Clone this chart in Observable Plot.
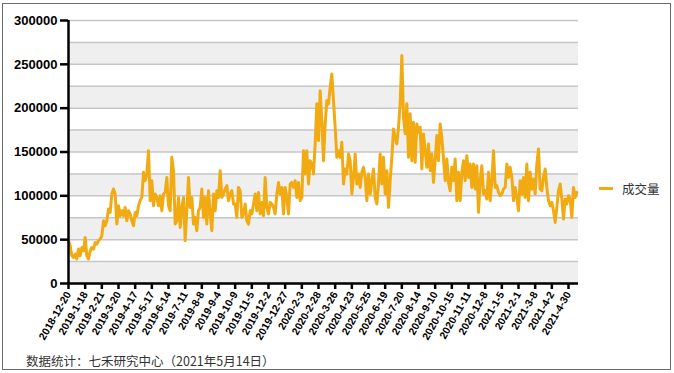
<!DOCTYPE html>
<html>
<head>
<meta charset="utf-8">
<script src="https://cdn.jsdelivr.net/npm/d3@7"></script>
<script src="https://cdn.jsdelivr.net/npm/@observablehq/plot@0.6"></script>
<style>
  body { margin: 0; background: #fff; }
  #wrap { position: relative; width: 674px; height: 373px; overflow: hidden; background: #fff; }
  #frame { position: absolute; left: 2px; top: 3px; width: 669px; height: 367px; box-sizing: border-box; border: 1.5px solid #6a6a6a; pointer-events: none; }
  #chart { position: absolute; left: 0; top: 0; }
  #legend { position: absolute; left: 599px; top: 179px; height: 18px; display: flex; align-items: center; font-family: "Noto Sans CJK SC", sans-serif; font-size: 12.5px; color: #333; }
  #legend .sw { display: inline-block; width: 14px; height: 3px; margin-right: 9px; }
  #caption { position: absolute; left: 26px; top: 351px; font-family: "Noto Sans CJK SC", sans-serif; font-size: 12.5px; color: #333; white-space: nowrap; }
</style>
</head>
<body>
<div id="wrap">
  <div id="chart"></div>
  <div id="legend"><span class="sw"></span><span id="legendText"></span></div>
  <div id="caption"></div>
  <div id="frame"></div>
</div>
<script>
// ---- data ----
const seriesName = "成交量";
const caption = "数据统计：七禾研究中心（2021年5月14日）";
const lineColor = "#f2aa12";

// x tick labels, one every 20 trading days
const tickLabels = [
  "2018-12-20","2019-1-18","2019-2-21","2019-3-20","2019-4-17","2019-5-17",
  "2019-6-14","2019-7-11","2019-8-8","2019-9-4","2019-10-9","2019-11-5",
  "2019-12-2","2019-12-27","2020-2-3","2020-2-28","2020-3-26","2020-4-23",
  "2020-5-25","2020-6-19","2020-7-20","2020-8-14","2020-9-10","2020-10-15",
  "2020-11-11","2020-12-8","2021-1-5","2021-2-1","2021-3-8","2021-4-2","2021-4-30"
];
const tickEvery = 20;   // trading days between labels
const sampleStep = 2;   // trading days between read values
const lastIndex = 612;  // end of category axis

// volume, one value every 2 trading days
const volume = [
  48800, 43000, 31600, 29700, 33600, 27900, 39300, 31600, 41100, 37300,
  52500, 31600, 27900, 37300, 41100, 39300, 46800, 45000, 48800, 50700,
  54500, 71600, 65900, 71600, 85000, 81100, 102100, 107800, 102100, 68000,
  88700, 77300, 83000, 77300, 86800, 71600, 83000, 79300, 71600, 65900,
  81100, 77300, 88700, 94500, 98200, 126800, 117300, 124900, 151500, 94500,
  117300, 88700, 102100, 98200, 88700, 100200, 83000, 102100, 103900, 121000,
  88700, 83000, 143900, 128700, 67800, 71600, 98200, 64000, 86800, 98200,
  48800, 83000, 121000, 86800, 98200, 67800, 75400, 60200, 83000, 86800,
  107800, 75400, 98200, 67800, 105900, 79300, 60200, 102100, 83000, 105900,
  98200, 128700, 98200, 102100, 107800, 111600, 94500, 102100, 105900, 90700,
  90700, 75400, 109600, 105900, 75400, 79300, 90700, 71600, 67800, 83000,
  79300, 90700, 102100, 83000, 103900, 79300, 92500, 77300, 121000, 86800,
  79300, 92500, 90700, 86800, 79300, 102100, 115300, 102100, 109600, 79300,
  109600, 98200, 79300, 113500, 115300, 109600, 117300, 98200, 115300, 94500,
  98200, 151500, 124900, 151500, 113500, 140100, 136300, 124900, 159200, 204900,
  163000, 220000, 185800, 140100, 182000, 208600, 204900, 223800, 239000, 208600,
  178200, 143900, 151500, 143900, 161000, 113500, 130600, 124900, 147800, 140100,
  102100, 121000, 147800, 113500, 124900, 109600, 126800, 132500, 121000, 94500,
  124900, 102100, 117300, 130600, 98200, 90700, 113500, 147800, 113500, 143900,
  102100, 128700, 86800, 117300, 143900, 176300, 166700, 159200, 178200, 205000,
  260000, 189600, 171000, 205000, 143900, 193500, 140100, 183900, 138200, 182000,
  172500, 178200, 130600, 170600, 151500, 132500, 159200, 128700, 147800, 115300,
  140100, 168700, 140100, 182000, 166700, 142100, 117300, 142100, 115300, 105900,
  132500, 117300, 142100, 94500, 126800, 94500, 126800, 140100, 117300, 145800,
  121000, 136300, 109600, 136300, 107800, 134400, 81100, 117300, 134400, 102100,
  105900, 96400, 126800, 94500, 117300, 151500, 109600, 111600, 103900, 100200,
  102100, 107800, 109600, 136300, 121000, 132500, 121000, 94500, 109600, 98200,
  83000, 117300, 102100, 121000, 98200, 136300, 94500, 126800, 107800, 119200,
  102100, 136300, 153500, 107800, 105900, 121000, 130600, 109600, 94500, 88700,
  92500, 83000, 69700, 86800, 105900, 113500, 96400, 73500, 96400, 90700,
  100200, 96400, 75400, 109600, 98200, 104000
];

const yTicks = [0, 50000, 100000, 150000, 200000, 250000, 300000];
const gridValues = [0, 25000, 50000, 75000, 100000, 125000, 150000, 175000, 200000, 225000, 250000, 275000, 300000];
const bandPairs = [[0, 25000], [50000, 75000], [100000, 125000], [150000, 175000], [200000, 225000], [250000, 275000]];

// ---- build ----
const series = volume.map((v, k) => ({i: k * sampleStep, v}));
const tickIdx = tickLabels.map((_, k) => k * tickEvery);

const chart = Plot.plot({
  width: 674,
  height: 345,
  marginLeft: 68,
  marginRight: 96,
  marginTop: 20,
  marginBottom: 62,
  style: {fontFamily: "'Liberation Sans', Arial, sans-serif", background: "transparent", overflow: "visible", color: "#000"},
  x: {domain: [0, lastIndex]},
  y: {domain: [0, 300000]},
  marks: [
    Plot.rect(bandPairs, {y1: d => d[0], y2: d => d[1], fill: "#efefef"}),
    Plot.ruleY(gridValues, {stroke: "#c6c6c6", strokeWidth: 1.5}),
    Plot.line(series, {x: "i", y: "v", stroke: lineColor, strokeWidth: 3}),
    Plot.ruleX([0], {stroke: "#000", strokeWidth: 2.5}),
    Plot.ruleY([0], {stroke: "#000", strokeWidth: 2.5}),
    Plot.axisY({ticks: yTicks, tickFormat: d => String(d), tickSize: 8, tickPadding: 3,
      fontSize: 13, fontWeight: "bold", strokeWidth: 2.5, label: null}),
    Plot.axisX({ticks: tickIdx, tickFormat: i => tickLabels[i / tickEvery], tickSize: 6,
      tickPadding: 3, tickRotate: -60, fontSize: 10.5, fontWeight: "bold", strokeWidth: 2.5, label: null})
  ]
});
document.getElementById("chart").appendChild(chart);
document.querySelector("#legend .sw").style.background = lineColor;
document.getElementById("legendText").textContent = seriesName;
document.getElementById("caption").textContent = caption;
</script>
</body>
</html>
